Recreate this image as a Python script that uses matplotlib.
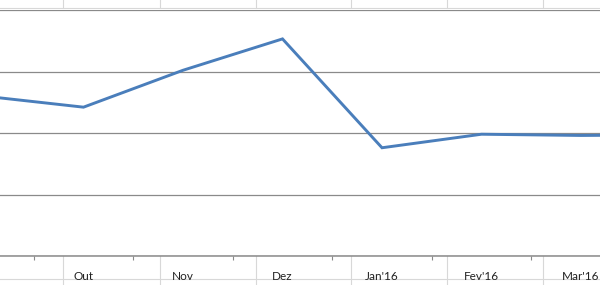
import matplotlib
matplotlib.use("Agg")
import matplotlib.pyplot as plt
from matplotlib.lines import Line2D
import numpy as np

# Data (y-axis labels are cropped, unit = one gridline)
categories = ["Set", "Out", "Nov", "Dez", "Jan'16", "Fev'16", "Mar'16", "Abr'16"]
values = [2.60, 2.42, 3.02, 3.53, 1.76, 1.98, 1.96, 1.97]
y_ticks = [0, 1, 2, 3, 4]

W, H = 600, 285
fig = plt.figure(figsize=(W / 100, H / 100), dpi=100)
fig.patch.set_facecolor("white")

# spreadsheet cell borders visible around the chart (decoration)
cell_color = "#d8d8d8"
for xp in [63, 159.5, 255.5, 351, 447, 543]:
    fig.add_artist(Line2D([xp / W, xp / W], [1, 1 - 8 / H], transform=fig.transFigure,
                          color=cell_color, lw=0.8, zorder=-1))
    fig.add_artist(Line2D([xp / W, xp / W], [0, 1 - 256 / H], transform=fig.transFigure,
                          color=cell_color, lw=0.8, zorder=-1))
fig.add_artist(Line2D([0, 1], [1 - 7.5 / H] * 2, transform=fig.transFigure,
                      color=cell_color, lw=0.8, zorder=-1))
fig.add_artist(Line2D([0, 1], [1 - 279 / H] * 2, transform=fig.transFigure,
                      color=cell_color, lw=0.8, zorder=-1))

ax = fig.add_axes([0, (H - 256) / H, 1, 246 / H])
ax.set_facecolor("white")
x = np.arange(len(categories))
ax.plot(x, values, color="#4a7ebb", lw=2.1, solid_joinstyle="miter", zorder=3)

ax.set_yticks(y_ticks)
ax.yaxis.grid(True, color="#8a8a8a", lw=0.9)
ax.tick_params(axis="y", left=False, labelleft=False)

ax.set_xticks(x)
ax.set_xticklabels(categories, fontsize=8.5, family=["Lato", "DejaVu Sans"], color="#222222")
ax.set_xticks(x[:-1] + 0.5, minor=True)
ax.tick_params(axis="x", which="major", length=0, pad=11)
ax.tick_params(axis="x", which="minor", length=3, width=0.8, color="#8a8a8a", direction="out")

# view limits set after the ticks (set_ticks may widen them)
ax.set_xlim(16 / 99.5, 616 / 99.5)
ax.set_ylim(y_ticks[0], y_ticks[-1])

for s in ["top", "left", "right"]:
    ax.spines[s].set_visible(False)
ax.spines["bottom"].set_color("#8a8a8a")
ax.spines["bottom"].set_linewidth(1.1)

fig.savefig("out.png", dpi=100, facecolor="white")
